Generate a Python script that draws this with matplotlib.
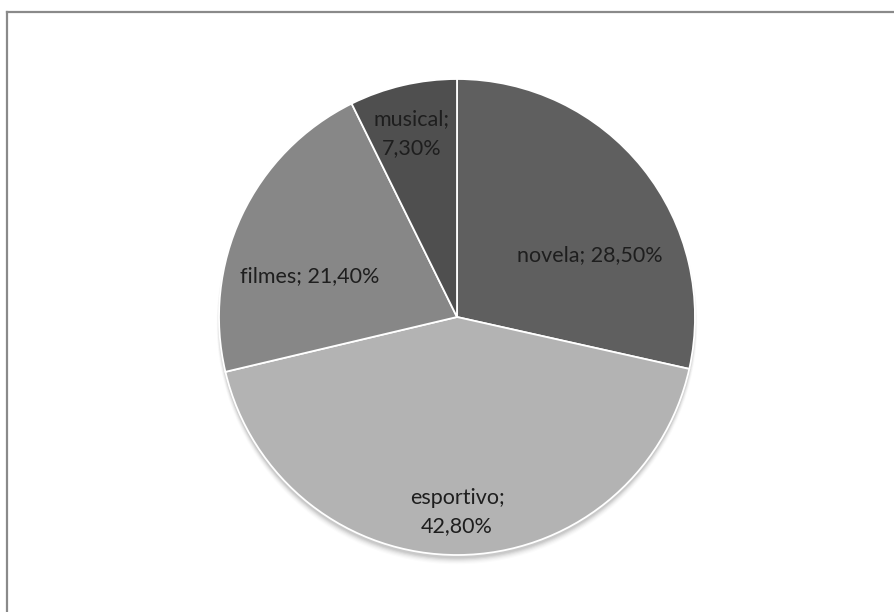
import numpy as np
import matplotlib.pyplot as plt
from matplotlib.patches import Circle
from matplotlib.lines import Line2D

# Audiência por tipo de programa
categorias = ['novela', 'esportivo', 'filmes', 'musical']
percentuais = [28.5, 42.8, 21.4, 7.3]
cores = ['#5f5f5f', '#b3b3b3', '#878787', '#4f4f4f']

# posição de cada rótulo (em unidades do raio)
pos_rotulos = [(0.56, 0.26), (0.0, -0.82), (-0.62, 0.17), (-0.19, 0.77)]
quebra_linha = [False, True, False, True]

W, H = 894, 612
fig = plt.figure(figsize=(W / 100, H / 100), dpi=100)
fig.patch.set_facecolor('white')

# moldura do gráfico (só aparece em cima e à esquerda)
fig.add_artist(Line2D([6.5 / W, 6.5 / W], [0, 1 - 11.5 / H], color='#8a8a8a', lw=1.6,
                      transform=fig.transFigure))
fig.add_artist(Line2D([6.5 / W, 1], [1 - 11.5 / H, 1 - 11.5 / H], color='#8a8a8a', lw=1.6,
                      transform=fig.transFigure))

cx, cy, r = 457, 317, 238
ax = fig.add_axes([(cx - r) / W, 1 - (cy + r) / H, 2 * r / W, 2 * r / H])
ax.set_axis_off()

# sombra suave embaixo da pizza
for i, a in enumerate(np.linspace(0.06, 0.015, 6)):
    ax.add_patch(Circle((0.0, -0.014 - 0.003 * i), 1.0 + 0.002 * i, color='black',
                        alpha=a, lw=0, zorder=0, clip_on=False))

wedges, _ = ax.pie(percentuais, colors=cores, startangle=90, counterclock=False,
                   radius=1.0, wedgeprops=dict(edgecolor='white', linewidth=1.3))
for w in wedges:
    w.set_zorder(2)

for nome, v, (x, y), quebra in zip(categorias, percentuais, pos_rotulos, quebra_linha):
    valor = f'{v:.2f}%'.replace('.', ',')
    sep = '\n' if quebra else ' '
    ax.text(x, y, f'{nome};{sep}{valor}', ha='center', va='center',
            fontsize=15.5, family=['Lato', 'DejaVu Sans'], color='#1e1e1e',
            linespacing=1.55, zorder=3)

ax.set_xlim(-1, 1)
ax.set_ylim(-1, 1)
ax.set_aspect('auto')

fig.savefig('out.png', dpi=100)
